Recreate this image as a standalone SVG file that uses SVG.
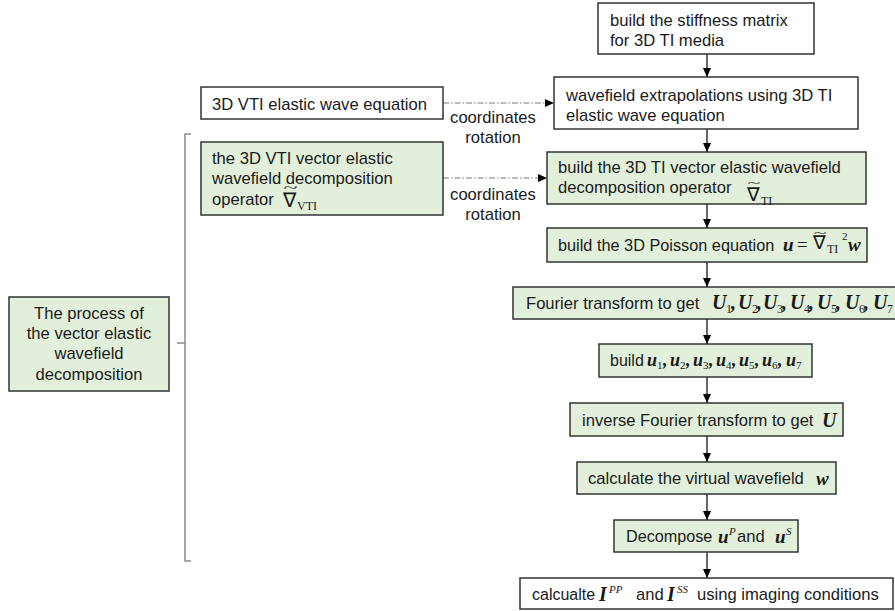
<svg xmlns="http://www.w3.org/2000/svg" width="895" height="611" viewBox="0 0 895 611">
<style>
.box{fill:#ffffff;stroke:#333333;stroke-width:1.5}
.g{fill:#e2efda;stroke:#333333;stroke-width:1.5}
.t{font-family:"Liberation Sans",Arial,sans-serif;font-size:16.6px;fill:#1a1a1a}
.m{font-family:"Liberation Serif","Times New Roman",serif;fill:#1a1a1a}
.bi{font-family:"Liberation Serif","Times New Roman",serif;font-style:italic;font-weight:bold;fill:#1a1a1a}
.r{font-style:normal;font-weight:normal}
.arr{stroke:#000;stroke-width:1.2;fill:none}
.dash{stroke:#7a7a7a;stroke-width:1.2;fill:none;stroke-dasharray:6 2 1.5 2}
.br{stroke:#8a8a8a;stroke-width:1.5;fill:none}
</style>
<defs>
<marker id="ah" markerWidth="10" markerHeight="10" refX="9" refY="5" orient="auto" markerUnits="userSpaceOnUse">
<path d="M0,1 L9,5 L0,9 Z" fill="#000"/>
</marker>
</defs>
<rect width="895" height="611" fill="#ffffff"/>

<g id="connectors">
<line class="arr" x1="707" y1="54" x2="707" y2="77" marker-end="url(#ah)"/>
<line class="arr" x1="707" y1="129" x2="707" y2="152" marker-end="url(#ah)"/>
<line class="arr" x1="707" y1="204" x2="707" y2="228" marker-end="url(#ah)"/>
<line class="arr" x1="707" y1="262" x2="707" y2="287" marker-end="url(#ah)"/>
<line class="arr" x1="707" y1="319" x2="707" y2="344" marker-end="url(#ah)"/>
<line class="arr" x1="707" y1="377" x2="707" y2="403" marker-end="url(#ah)"/>
<line class="arr" x1="707" y1="436" x2="707" y2="462" marker-end="url(#ah)"/>
<line class="arr" x1="707" y1="494" x2="707" y2="520" marker-end="url(#ah)"/>
<line class="arr" x1="707" y1="552" x2="707" y2="578" marker-end="url(#ah)"/>
<line class="dash" x1="443" y1="103" x2="554" y2="103" marker-end="url(#ah)"/>
<line class="dash" x1="443" y1="178" x2="547" y2="178" marker-end="url(#ah)"/>
<text class="t" x="493" y="123" text-anchor="middle">coordinates</text>
<text class="t" x="493" y="143" text-anchor="middle">rotation</text>
<text class="t" x="493" y="200" text-anchor="middle">coordinates</text>
<text class="t" x="493" y="220" text-anchor="middle">rotation</text>
<path class="br" d="M191,134 L185,134 L185,561 L191,561 M177,343 L185,343"/>
</g>

<g id="n-stiffness">
<rect class="box" x="598" y="3" width="216" height="51"/>
<text class="t" x="610" y="26">build the stiffness matrix</text>
<text class="t" x="610" y="46">for 3D TI media</text>
</g>

<g id="n-extrap">
<rect class="box" x="554" y="77" width="304" height="52"/>
<text class="t" x="566" y="101">wavefield extrapolations using 3D TI</text>
<text class="t" x="566" y="121">elastic wave equation</text>
</g>

<g id="n-vti-eq">
<rect class="box" x="201" y="87" width="242" height="32"/>
<text class="t" x="212" y="110">3D VTI elastic wave equation</text>
</g>

<g id="n-vti-op">
<rect class="g" x="201" y="142" width="242" height="73"/>
<text class="t" x="212" y="164">the 3D VTI vector elastic</text>
<text class="t" x="212" y="184">wavefield decomposition</text>
<text class="t" x="212" y="205">operator</text>
<text class="m" font-size="20"><tspan x="283" y="207">∇</tspan><tspan x="297" y="210" font-size="12">VTI</tspan><tspan x="283.5" y="192" font-size="12" textLength="14" lengthAdjust="spacingAndGlyphs">~</tspan></text>
</g>

<g id="n-ti-op">
<rect class="g" x="547" y="152" width="319" height="52"/>
<text class="t" x="558" y="173">build the 3D TI vector elastic wavefield</text>
<text class="t" x="558" y="193">decomposition operator</text>
<text class="m" font-size="19"><tspan x="747" y="201">∇</tspan><tspan x="761" y="205" font-size="12">TI</tspan><tspan x="747.5" y="186" font-size="11" textLength="13" lengthAdjust="spacingAndGlyphs">~</tspan></text>
</g>

<g id="n-poisson">
<rect class="g" x="547" y="228" width="320" height="34"/>
<text class="t" x="558" y="251" style="font-size:16.3px">build the 3D Poisson equation</text>
<text class="bi" font-size="19"><tspan x="783" y="251">u</tspan><tspan class="r" x="797" y="251">=</tspan><tspan class="r" x="813" y="249">∇</tspan><tspan class="r" x="827" y="253" font-size="12">TI</tspan><tspan class="r" x="813.5" y="236" font-size="11" textLength="13" lengthAdjust="spacingAndGlyphs">~</tspan><tspan class="r" x="842" y="240" font-size="11">2</tspan><tspan x="848" y="251">w</tspan></text>
</g>

<g id="n-fourier">
<rect class="g" x="513" y="287" width="392" height="32"/>
<text class="t" x="526" y="309">Fourier transform to get</text>
<text class="bi" font-size="20"><tspan x="712" y="309">U</tspan><tspan class="r" x="726" y="313" font-size="12">1</tspan><tspan x="731" y="309">,</tspan><tspan x="738" y="309">U</tspan><tspan class="r" x="752" y="313" font-size="12">2</tspan><tspan x="757" y="309">,</tspan><tspan x="763" y="309">U</tspan><tspan class="r" x="777" y="313" font-size="12">3</tspan><tspan x="782" y="309">,</tspan><tspan x="790" y="309">U</tspan><tspan class="r" x="804" y="313" font-size="12">4</tspan><tspan x="809" y="309">,</tspan><tspan x="817" y="309">U</tspan><tspan class="r" x="831" y="313" font-size="12">5</tspan><tspan x="836" y="309">,</tspan><tspan x="845" y="309">U</tspan><tspan class="r" x="859" y="313" font-size="12">6</tspan><tspan x="864" y="309">,</tspan><tspan x="873" y="309">U</tspan><tspan class="r" x="887" y="313" font-size="12">7</tspan></text>
</g>

<g id="n-build-u">
<rect class="g" x="599" y="344" width="213" height="33"/>
<text class="t" x="610" y="366" style="font-size:16px">build</text>
<text class="bi" font-size="18"><tspan x="647" y="366">u</tspan><tspan class="r" x="657" y="369" font-size="11">1</tspan><tspan x="663" y="366">,</tspan><tspan x="670" y="366">u</tspan><tspan class="r" x="680" y="369" font-size="11">2</tspan><tspan x="686" y="366">,</tspan><tspan x="693" y="366">u</tspan><tspan class="r" x="703" y="369" font-size="11">3</tspan><tspan x="709" y="366">,</tspan><tspan x="716" y="366">u</tspan><tspan class="r" x="726" y="369" font-size="11">4</tspan><tspan x="732" y="366">,</tspan><tspan x="739" y="366">u</tspan><tspan class="r" x="749" y="369" font-size="11">5</tspan><tspan x="755" y="366">,</tspan><tspan x="762" y="366">u</tspan><tspan class="r" x="772" y="369" font-size="11">6</tspan><tspan x="778" y="366">,</tspan><tspan x="786" y="366">u</tspan><tspan class="r" x="796" y="369" font-size="11">7</tspan></text>
</g>

<g id="n-inverse">
<rect class="g" x="570" y="403" width="273" height="33"/>
<text class="t" x="582" y="426">inverse Fourier transform to get</text>
<text class="bi" x="822" y="427" font-size="20">U</text>
</g>

<g id="n-virtual">
<rect class="g" x="577" y="462" width="259" height="32"/>
<text class="t" x="588" y="484">calculate the virtual wavefield</text>
<text class="bi" x="816" y="485" font-size="19">w</text>
</g>

<g id="n-decompose">
<rect class="g" x="614" y="520" width="184" height="32"/>
<text class="t" x="626" y="542" style="font-size:16.2px">Decompose</text>
<text class="bi" font-size="19"><tspan x="718" y="543">u</tspan><tspan x="729" y="535" font-size="11" font-weight="normal">P</tspan></text>
<text class="t" x="737" y="542">and</text>
<text class="bi" font-size="19"><tspan x="775" y="543">u</tspan><tspan x="786" y="535" font-size="11" font-weight="normal">S</tspan></text>
</g>

<g id="n-imaging">
<rect class="box" x="520" y="578" width="373" height="31"/>
<text class="t" x="532" y="600" style="font-size:16px">calcualte</text>
<text class="bi" font-size="20"><tspan x="599" y="601">I</tspan><tspan x="609" y="593" font-size="11" font-weight="normal">PP</tspan></text>
<text class="t" x="636" y="600">and</text>
<text class="bi" font-size="20"><tspan x="667" y="601">I</tspan><tspan x="677" y="593" font-size="11" font-weight="normal">SS</tspan></text>
<text class="t" x="697" y="600">using imaging conditions</text>
</g>

<g id="n-process">
<rect class="g" x="9" y="297" width="160" height="94"/>
<text class="t" x="89" y="319" text-anchor="middle">The process of</text>
<text class="t" x="89" y="339" text-anchor="middle">the vector elastic</text>
<text class="t" x="89" y="359" text-anchor="middle">wavefield</text>
<text class="t" x="89" y="380" text-anchor="middle">decomposition</text>
</g>
</svg>
